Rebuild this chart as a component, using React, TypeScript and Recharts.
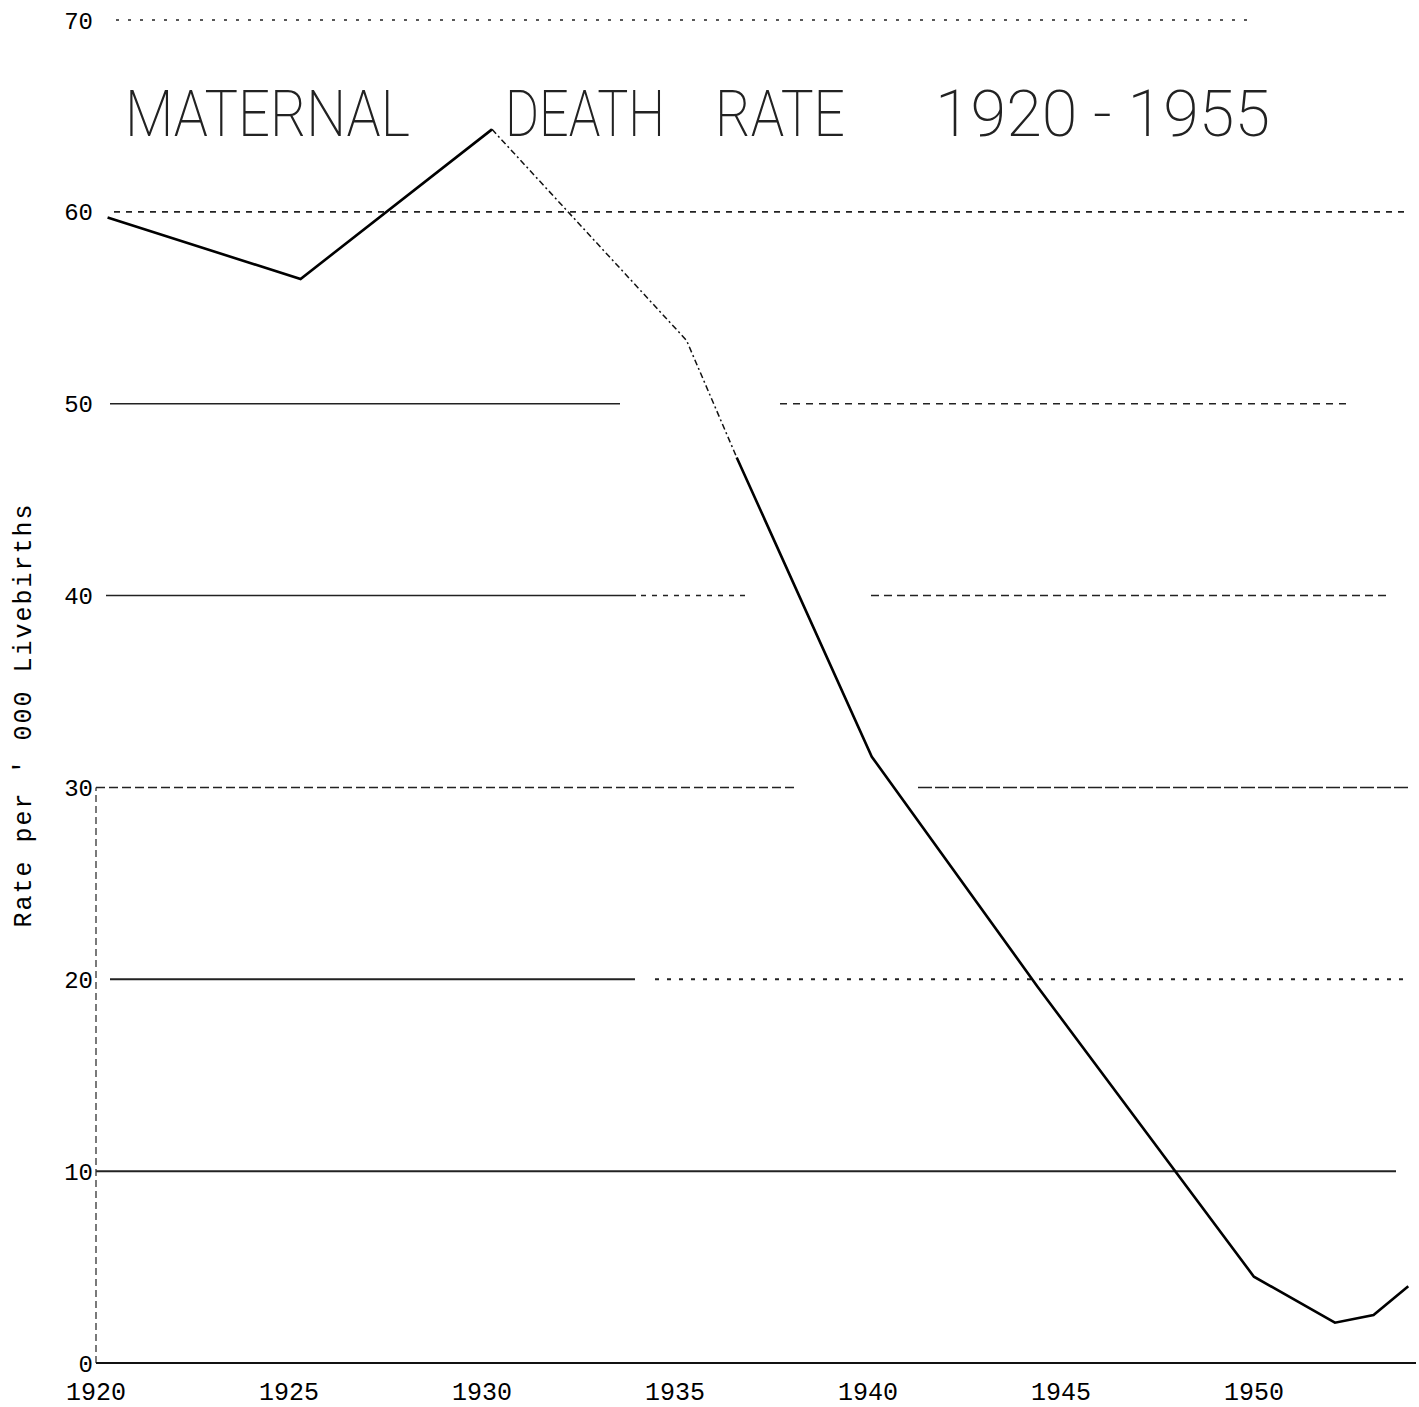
import { LineChart, Line, XAxis, YAxis, ReferenceLine } from "recharts";

// maternal deaths per 1000 livebirths
const years = [1920.3, 1925.3, 1930.26, 1935.3, 1936.6, 1940.1, 1944.4, 1950.0, 1952.1, 1953.1, 1954.0];
const rates = [59.7, 56.5, 64.3, 53.3, 47.2, 31.6, 19.6, 4.5, 2.1, 2.5, 4.0];
// the stretch between these two points is drawn faint and broken
const dashedFrom = 2;
const dashedTo = 4;

const xTicks = [1920, 1925, 1930, 1935, 1940, 1945, 1950];
const yTicks = [0, 10, 20, 30, 40, 50, 60, 70];

const data = years.map((year, i) => ({
  year,
  solid: i <= dashedFrom || i >= dashedTo ? rates[i] : null,
  broken: i >= dashedFrom && i <= dashedTo ? rates[i] : null,
}));

const dashes = (total: number, dash: number, gap: number) => {
  const out: number[] = [];
  for (let i = 0; i < total; i += dash + gap) out.push(dash, gap);
  return out;
};

// rough imitation of the hand-ruled, uneven grid lines
const gridStyle: Record<number, number[]> = {
  70: [0, 20, ...dashes(1140, 3, 9), 0, 1000],
  60: [0, 18, ...dashes(1290, 6, 6), 0, 1000],
  50: [0, 14, 510, 160, ...dashes(560, 7, 6), 0, 1000],
  40: [0, 10, 530, 5, ...dashes(110, 5, 6), 0, 120, ...dashes(510, 8, 5), 0, 1000],
  30: [...dashes(690, 9, 4), 0, 120, ...dashes(490, 14, 3), 0, 1000],
  20: [0, 14, 525, 20, ...dashes(750, 4, 8), 0, 1000],
  10: [1300, 1000],
};

const mono = "'Liberation Mono', 'DejaVu Sans Mono', monospace";

export default function App() {
  return (
    <div style={{ position: "absolute", left: 0, top: 0, width: 1419, height: 1407, overflow: "hidden", background: "#fff" }}>
      <LineChart width={1419} height={1407} data={data} margin={{ top: 20, right: 3, left: 0, bottom: 0 }}>
        {yTicks.filter((v) => v > 0).map((v) => (
          <ReferenceLine key={v} y={v} stroke="#222" strokeWidth={v === 10 || v === 20 ? 2 : 1.6}
            strokeDasharray={gridStyle[v].join(" ")} />
        ))}
        <ReferenceLine segment={[{ x: 1920, y: 0 }, { x: 1920, y: 30 }]} stroke="#333" strokeWidth={1.3}
          strokeDasharray="7 4" />
        <XAxis type="number" dataKey="year" domain={[1920, 1954.2]} ticks={xTicks} allowDataOverflow
          height={44} tickSize={0} tickMargin={19} stroke="#111" strokeWidth={1.8}
          tick={{ fill: "#000", fontSize: 25, fontFamily: mono }} />
        <YAxis domain={[0, 70]} ticks={yTicks} width={96} axisLine={false} tickLine={false}
          tickSize={0} tickMargin={3} tick={{ fill: "#000", fontSize: 24, fontFamily: mono }} />
        <Line type="linear" dataKey="solid" stroke="#000" strokeWidth={2.6} dot={false}
          isAnimationActive={false} />
        <Line type="linear" dataKey="broken" stroke="#111" strokeWidth={1.5} strokeDasharray="6 3 2 3"
          dot={false} isAnimationActive={false} />
      </LineChart>
      <svg width={1419} height={1407} style={{ position: "absolute", left: 0, top: 0, pointerEvents: "none" }}>
        <g fontFamily="Roboto, Inter, Lato, sans-serif" fontWeight={200} fontSize={64} fill="#222">
          <text x={125} y={136} textLength={285} lengthAdjust="spacingAndGlyphs">MATERNAL</text>
          <text x={505} y={136} textLength={160} lengthAdjust="spacingAndGlyphs">DEATH</text>
          <text x={715} y={136} textLength={130} lengthAdjust="spacingAndGlyphs">RATE</text>
          <text x={935} y={136} textLength={335} lengthAdjust="spacingAndGlyphs">1920 - 1955</text>
        </g>
        <text transform="translate(31 716) rotate(-90)" textAnchor="middle" fontFamily={mono} fontSize={25}
          fill="#000" textLength={423} lengthAdjust="spacing">
          Rate per '  000 Livebirths
        </text>
      </svg>
    </div>
  );
}
